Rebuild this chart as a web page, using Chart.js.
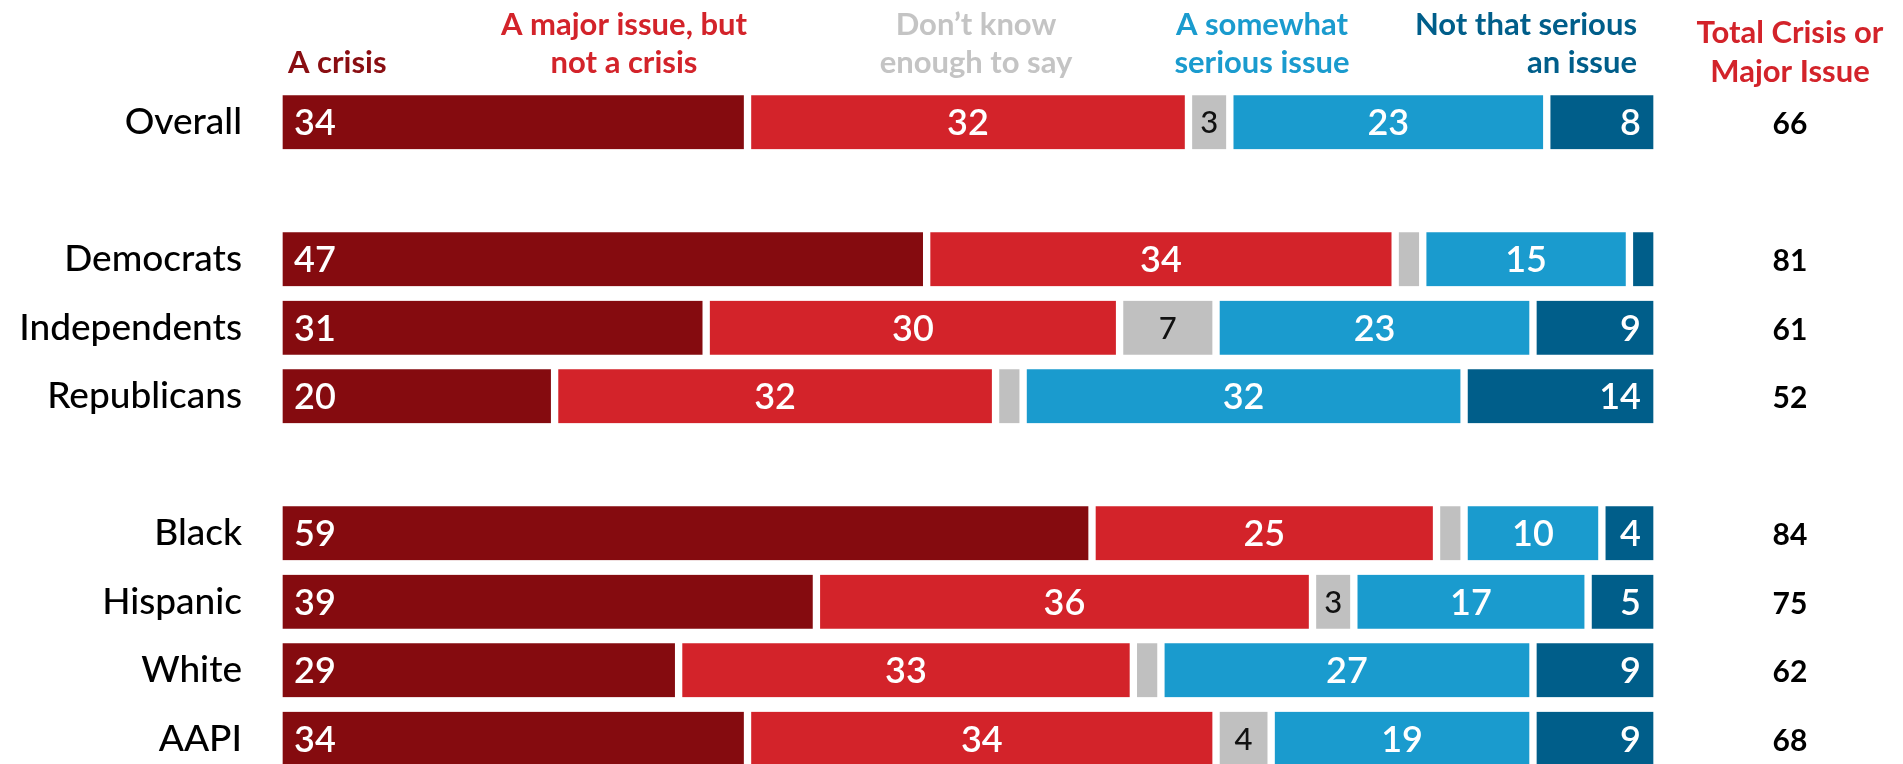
<!DOCTYPE html>
<html>
<head>
<meta charset="utf-8">
<script src="https://cdn.jsdelivr.net/npm/chart.js@4.4.1/dist/chart.umd.min.js"></script>
<style>
html, body { margin: 0; padding: 0; background: #fff; overflow: hidden; }
canvas { display: block; }
</style>
</head>
<body>
<canvas id="chart" width="1903" height="773"></canvas>
<script>
// rows, blank strings are the spacer rows between groups
const groups = ["Overall", "", "Democrats", "Independents", "Republicans", "", "Black", "Hispanic", "White", "AAPI"];
const crisis = [34, null, 47, 31, 20, null, 59, 39, 29, 34];
const majorIssue = [32, null, 34, 30, 32, null, 25, 36, 33, 34];
const dontKnow = [3, null, 2, 7, 2, null, 2, 3, 2, 4];
const somewhat = [23, null, 15, 23, 32, null, 10, 17, 27, 19];
const notSerious = [8, null, 2, 9, 14, null, 4, 5, 9, 9];
const totals = [66, null, 81, 61, 52, null, 84, 75, 62, 68];

const FONT = 'Lato, "Noto Sans", sans-serif';
const colors = ["#850B0F", "#D3232A", "#C0C0C0", "#1A9BCE", "#005E8A"];

const headers = [
    { lines: ["A crisis"], color: "#8A0E12", x: 288, align: "left", y: [73] },
    { lines: ["A major issue, but", "not a crisis"], color: "#D3232A", x: 624, align: "center", y: [35, 73] },
    { lines: ["Don\u2019t know", "enough to say"], color: "#C4C4C4", x: 976, align: "center", y: [35, 73] },
    { lines: ["A somewhat", "serious issue"], color: "#1A9BCE", x: 1262, align: "center", y: [35, 73] },
    { lines: ["Not that serious", "an issue"], color: "#005E8A", x: 1637, align: "right", y: [35, 73] },
    { lines: ["Total Crisis or", "Major Issue"], color: "#D3232A", x: 1790, align: "center", y: [43, 82] }
];

// numbers inside the bars
const barLabels = {
    id: "barLabels",
    afterDatasetsDraw(chart) {
        const ctx = chart.ctx;
        ctx.save();
        ctx.textBaseline = "alphabetic";
        chart.data.datasets.forEach((ds, i) => {
            const meta = chart.getDatasetMeta(i);
            meta.data.forEach((bar, j) => {
                const v = ds.data[j];
                if (v == null || v < 3) return;
                const p = bar.getProps(["x", "base", "y"], true);
                const gray = i === 2;
                ctx.font = (gray ? "500 31px " : "600 36px ") + FONT;
                ctx.fillStyle = gray ? "#111" : "#fff";
                let tx;
                if (i === 0) { ctx.textAlign = "left"; tx = p.base + 15; }
                else if (i === 4) { ctx.textAlign = "right"; tx = p.x - 16; }
                else { ctx.textAlign = "center"; tx = (p.base + p.x) / 2; }
                ctx.fillText(String(v), tx, p.y + (gray ? 11 : 13));
            });
        });
        ctx.restore();
    }
};

// column headers and the totals column
const extras = {
    id: "extras",
    afterDraw(chart) {
        const ctx = chart.ctx;
        ctx.save();
        ctx.textBaseline = "alphabetic";
        ctx.font = "bold 31px " + FONT;
        for (const h of headers) {
            ctx.fillStyle = h.color;
            ctx.textAlign = h.align;
            h.lines.forEach((line, k) => ctx.fillText(line, h.x, h.y[k]));
        }
        const yScale = chart.scales.y;
        ctx.font = "bold 30px " + FONT;
        ctx.fillStyle = "#000";
        ctx.textAlign = "center";
        totals.forEach((t, j) => {
            if (t == null) return;
            ctx.fillText(String(t), 1790, yScale.getPixelForValue(j) + 12);
        });
        ctx.restore();
    }
};

const series = [crisis, majorIssue, dontKnow, somewhat, notSerious];
const names = ["A crisis", "A major issue, but not a crisis", "Don't know enough to say", "A somewhat serious issue", "Not that serious an issue"];

const chart = new Chart(document.getElementById("chart"), {
    type: "bar",
    data: {
        labels: groups,
        datasets: series.map((d, i) => ({
            label: names[i],
            data: d,
            backgroundColor: colors[i],
            borderColor: "#fff",
            borderWidth: { left: 4, right: 4, top: 0, bottom: 0 },
            borderSkipped: false,
            barThickness: 54
        }))
    },
    options: {
        indexAxis: "y",
        responsive: false,
        animation: false,
        devicePixelRatio: 1,
        layout: { padding: { top: 88, right: 246, bottom: 0, left: 0 } },
        plugins: { legend: { display: false }, tooltip: { enabled: false } },
        scales: {
            x: { stacked: true, display: false, min: 0, max: 100 },
            y: {
                stacked: true,
                grid: { display: false, drawTicks: false },
                border: { display: false },
                ticks: {
                    color: "#000",
                    autoSkip: false,
                    padding: 37,
                    font: { family: FONT, size: 37, weight: 500 }
                },
                afterFit(scale) {
                    scale.width = 279;
                    scale.paddingTop = 0;
                    scale.paddingBottom = 0;
                }
            }
        }
    },
    plugins: [barLabels, extras]
});
</script>
</body>
</html>
